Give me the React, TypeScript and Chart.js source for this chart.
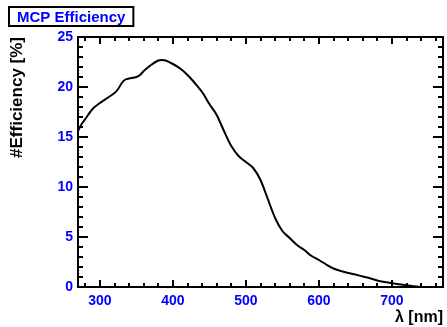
import React, { useEffect, useRef } from "react";
import { Chart, registerables } from "chart.js";
Chart.register(...registerables);

const chartTitle = "MCP Efficiency";
const xTitle = "λ [nm]";
const yTitle = "#Efficiency [%]";

const wavelengths = [270, 275, 280, 290, 300, 310, 320, 325, 330, 335, 340, 350, 355, 360, 370, 380, 385, 390, 400, 410, 420, 430, 440, 450, 460, 470, 480, 490, 500, 510, 520, 530, 540, 550, 560, 570, 580, 590, 600, 610, 620, 630, 640, 650, 660, 670, 680, 690, 700, 710, 720, 730, 740];
const efficiency = [15.6, 16.3, 16.8, 17.8, 18.4, 18.9, 19.4, 19.8, 20.4, 20.75, 20.85, 21.0, 21.2, 21.6, 22.2, 22.65, 22.7, 22.65, 22.3, 21.85, 21.2, 20.4, 19.5, 18.3, 17.2, 15.6, 14.1, 13.1, 12.5, 11.9, 10.7, 8.8, 6.9, 5.6, 4.9, 4.2, 3.7, 3.1, 2.7, 2.25, 1.85, 1.6, 1.4, 1.25, 1.05, 0.87, 0.65, 0.5, 0.38, 0.28, 0.18, 0.08, 0.0];

const xTickLabels = [300, 400, 500, 600, 700];
const yTickLabels = [0, 5, 10, 15, 20, 25];

const xMin = 270;
const xMax = 770;
const xMajorStep = 100;
const xMinorStep = 20;
const yMin = 0;
const yMax = 25;
const yMajorStep = 5;
const yMinorStep = 1;

const FONT = "'Liberation Sans', Arial, Helvetica, sans-serif";
const BLUE = "#0000ff";

const framePlugin = {
  id: "rootFrame",
  afterDraw(chart: any) {
    const { ctx, chartArea } = chart;
    const { left, right, top, bottom } = chartArea;
    const xs = chart.scales.x;
    const ys = chart.scales.y;
    ctx.save();
    ctx.strokeStyle = "#000";
    ctx.lineWidth = 2;
    ctx.lineCap = "butt";
    ctx.beginPath();
    const xStart = Math.ceil(xMin / xMinorStep) * xMinorStep;
    for (let v = xStart; v <= xMax + 1e-9; v += xMinorStep) {
      const px = Math.round(xs.getPixelForValue(v));
      const major = Math.abs(v / xMajorStep - Math.round(v / xMajorStep)) < 1e-9;
      const len = major ? 7 : 4;
      ctx.moveTo(px, bottom);
      ctx.lineTo(px, bottom - len);
      ctx.moveTo(px, top);
      ctx.lineTo(px, top + len);
    }
    for (let v = yMin; v <= yMax + 1e-9; v += yMinorStep) {
      const py = Math.round(ys.getPixelForValue(v));
      const major = Math.abs(v / yMajorStep - Math.round(v / yMajorStep)) < 1e-9;
      const len = major ? 10 : 5;
      ctx.moveTo(left, py);
      ctx.lineTo(left + len, py);
      ctx.moveTo(right, py);
      ctx.lineTo(right - len, py);
    }
    ctx.stroke();
    ctx.strokeRect(left, top, right - left, bottom - top);

    ctx.font = `bold 15px ${FONT}`;
    const tw = ctx.measureText(chartTitle).width;
    const bx = 9, by = 7, bh = 19;
    const bw = tw + 16;
    ctx.fillStyle = "#fff";
    ctx.fillRect(bx, by, bw, bh);
    ctx.strokeRect(bx, by, bw, bh);
    ctx.fillStyle = BLUE;
    ctx.textBaseline = "middle";
    ctx.textAlign = "center";
    ctx.fillText(chartTitle, bx + bw / 2, by + bh / 2 + 1);
    ctx.restore();
  },
};

export default function App() {
  const ref = useRef<HTMLCanvasElement | null>(null);
  useEffect(() => {
    if (!ref.current) return;
    const points = wavelengths.map((x, i) => ({ x, y: efficiency[i] }));
    const chart = new Chart(ref.current, {
      type: "line",
      data: {
        datasets: [
          {
            data: points,
            borderColor: "#000",
            borderWidth: 2,
            pointRadius: 0,
            tension: 0.3,
            fill: false,
          },
        ],
      },
      options: {
        animation: false,
        responsive: false,
        maintainAspectRatio: false,
        layout: { padding: { top: 37, right: 4, left: 0, bottom: 0 } },
        plugins: {
          legend: { display: false },
          tooltip: { enabled: false },
          title: { display: false },
        },
        scales: {
          x: {
            type: "linear",
            min: xMin,
            max: xMax,
            grid: { display: false, drawTicks: false },
            border: { display: false },
            afterBuildTicks: (scale: any) => {
              scale.ticks = xTickLabels.map((v) => ({ value: v }));
            },
            ticks: {
              color: BLUE,
              font: { family: FONT, size: 14, weight: "bold" },
              padding: 6,
              maxRotation: 0,
              autoSkip: false,
            },
            title: {
              display: true,
              text: xTitle,
              align: "end",
              color: "#000",
              font: { family: FONT, size: 16, weight: "bold" },
              padding: { top: 0, bottom: 0 },
            },
            afterFit: (scale: any) => {
              scale.height = 40;
            },
          },
          y: {
            type: "linear",
            min: yMin,
            max: yMax,
            grid: { display: false, drawTicks: false },
            border: { display: false },
            afterBuildTicks: (scale: any) => {
              scale.ticks = yTickLabels.map((v) => ({ value: v }));
            },
            ticks: {
              color: BLUE,
              font: { family: FONT, size: 14, weight: "bold" },
              padding: 5,
              autoSkip: false,
            },
            title: {
              display: true,
              text: yTitle,
              align: "end",
              color: "#000",
              font: { family: FONT, size: 17, weight: "bold" },
              padding: { top: 7, bottom: 0 },
            },
            afterFit: (scale: any) => {
              scale.width = 78;
            },
          },
        },
      } as any,
      plugins: [framePlugin],
    });
    return () => chart.destroy();
  }, []);
  return (
    <div style={{ position: "fixed", left: 0, top: 0, width: 447, height: 327, background: "#fff" }}>
      <canvas ref={ref} width={447} height={327} style={{ width: 447, height: 327, display: "block" }} />
    </div>
  );
}
